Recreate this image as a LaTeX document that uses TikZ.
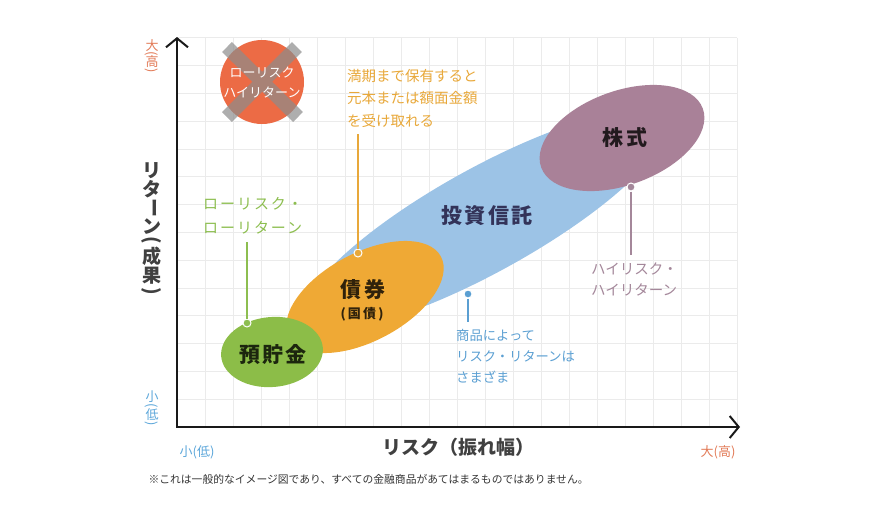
\documentclass[tikz,border=0pt]{standalone}
\usepackage{fontspec}
\setmainfont{Noto Sans CJK JP}
\usetikzlibrary{arrows.meta}

\definecolor{gridcol}{HTML}{EBEBEB}
\definecolor{trustcol}{HTML}{9CC3E6}
\definecolor{stockcol}{HTML}{A98198}
\definecolor{bondcol}{HTML}{EFA935}
\definecolor{savecol}{HTML}{8CBD48}
\definecolor{crosscol}{HTML}{EC6B45}
\definecolor{hicol}{HTML}{E27B58}
\definecolor{locol}{HTML}{5DA7DA}
\definecolor{bondtxt}{HTML}{E8A83A}
\definecolor{savetxt}{HTML}{8DBE50}
\definecolor{stocktxt}{HTML}{A4879A}
\definecolor{trusttxt}{HTML}{5B9FD2}
\definecolor{inktxt}{HTML}{404040}

\begin{document}
\begin{tikzpicture}[x=1pt,y=-1pt,
  axis/.style={line width=2pt,color=black!90},
  note/.style={align=left,inner xsep=0pt,inner ysep=7pt,anchor=west},
  big/.style={font=\fontsize{21}{21}\selectfont\bfseries\addfontfeatures{LetterSpace=10}},
  dot/.style={circle,fill=#1,draw=white,line width=1pt,inner sep=0pt,minimum size=8pt},
  lead/.style={line width=1.4pt}]
\useasboundingbox (0,0) rectangle (870,523);
\def\gx{28}
\def\gy{27.8}
\def\lp{(}
\def\rp{)}

% grid
\foreach \i in {1,...,20}
  \draw[gridcol,line width=0.8pt] (177+\i*\gx,427) -- (177+\i*\gx,38);
\foreach \j in {1,...,14}
  \draw[gridcol,line width=0.8pt] (177,427-\j*\gy) -- (737,427-\j*\gy);

% ellipses (blue under the others)
\fill[trustcol,rotate around={29:(485,220)}] (485,220) ellipse (205 and 52);
\fill[stockcol,rotate around={20:(622,138)}] (622,138) ellipse (86 and 47);
\fill[bondcol,rotate around={28:(365,297)}] (365,297) ellipse (86 and 44);
\fill[savecol,rotate around={5:(272,352)}] (272,352) ellipse (51 and 35);

\node[big,text=black!75!blue!60!gray] (trust) at (487,216) {投資信託};
\node[big,text=black!80!stockcol] (stock) at (625,137) {株式};
\node[big,text=black!80!bondcol] (bond) at (363,290) {債券};
\node[font=\fontsize{13}{13}\selectfont\bfseries,text=black!80!bondcol] (jgb) at (362,314) {(\,国\,債\,)};
\node[big,text=black!80!savecol] (save) at (273,355) {預貯金};

% crossed-out low risk / high return
\fill[crosscol] (262,82) circle (42);
\draw[black!45,opacity=0.7,line width=14pt] (227,47) -- (298,117) (297,47) -- (227,117);
\node[text=white,align=center,font=\fontsize{13}{20}\selectfont] (lowhigh) at (262,83) {ローリスク\\ハイリターン};

% axes
\coordinate (origin) at (177,427);
\coordinate (ytip) at (177,37);
\coordinate (xtip) at (740,427);
\draw[axis,{Straight Barb[length=9pt,width=22pt]}-{Straight Barb[length=9pt,width=22pt]}] (ytip) -- (origin) -- (xtip);

% axis labels
\foreach \ch/\yy/\rr [count=\n] in {リ/171/0, タ/189/0, ー/208/-90, ン/227/0, \lp/240/-90, 成/256/0, 果/276/0, \rp/291/-90}
  \node[font=\fontsize{19}{19}\selectfont\bfseries,text=inktxt,rotate=\rr] (ret\n) at (152,\yy) {\ch};
\foreach \ch/\yy/\rr [count=\n] in {大/46/0, \lp/54/-90, 高/62/0, \rp/71/-90}
  \node[font=\fontsize{13}{13}\selectfont,text=hicol,rotate=\rr] (yhi\n) at (152,\yy) {\ch};
\foreach \ch/\yy/\rr [count=\n] in {小/397/0, \lp/406/-90, 低/415/0, \rp/424/-90}
  \node[font=\fontsize{13}{13}\selectfont,text=locol,rotate=\rr] (ylo\n) at (152,\yy) {\ch};
\node[font=\fontsize{19}{19}\selectfont\bfseries,text=inktxt] (risk) at (458,447) {リスク（振れ幅）};
\node[font=\fontsize{13}{13}\selectfont,text=locol] (xlo) at (197,452) {小(低)};
\node[font=\fontsize{13}{13}\selectfont,text=hicol] (xhi) at (718,452) {大(高)};

% notes and leaders
\node[note,text=bondtxt,font=\fontsize{14.5}{22.5}\selectfont] (bondnote) at (347,98) {満期まで保有すると\\元本または額面金額\\を受け取れる};
\node[dot=bondtxt] (bonddot) at (358,253) {};
\draw[lead,bondtxt] (bonddot) -- (bonddot |- bondnote.south);

\node[note,text=savetxt,font=\fontsize{15}{24}\selectfont\addfontfeatures{LetterSpace=13}] (savenote) at (203,216) {ローリスク・\\ローリターン};
\node[dot=savetxt] (savedot) at (247,323) {};
\draw[lead,savetxt] (savedot) -- (savedot |- savenote.south);

\node[note,text=stocktxt,font=\fontsize{14.5}{21}\selectfont] (stocknote) at (591,279) {ハイリスク・\\ハイリターン};
\node[dot=stocktxt] (stockdot) at (631,187) {};
\draw[lead,stocktxt] (stockdot) -- (stockdot |- stocknote.north);

\node[note,text=trusttxt,font=\fontsize{13.3}{21}\selectfont] (trustnote) at (456,356) {商品によって\\リスク・リターンは\\さまざま};
\node[dot=trusttxt] (trustdot) at (468,294) {};
\draw[lead,trusttxt] (trustdot) -- (trustdot |- trustnote.north);

% footnote
\node[anchor=west,font=\fontsize{10.8}{12}\selectfont,text=black!80] (foot) at (145,479) {※これは一般的なイメージ図であり、すべての金融商品があてはまるものではありません。};
\end{tikzpicture}
\end{document}
